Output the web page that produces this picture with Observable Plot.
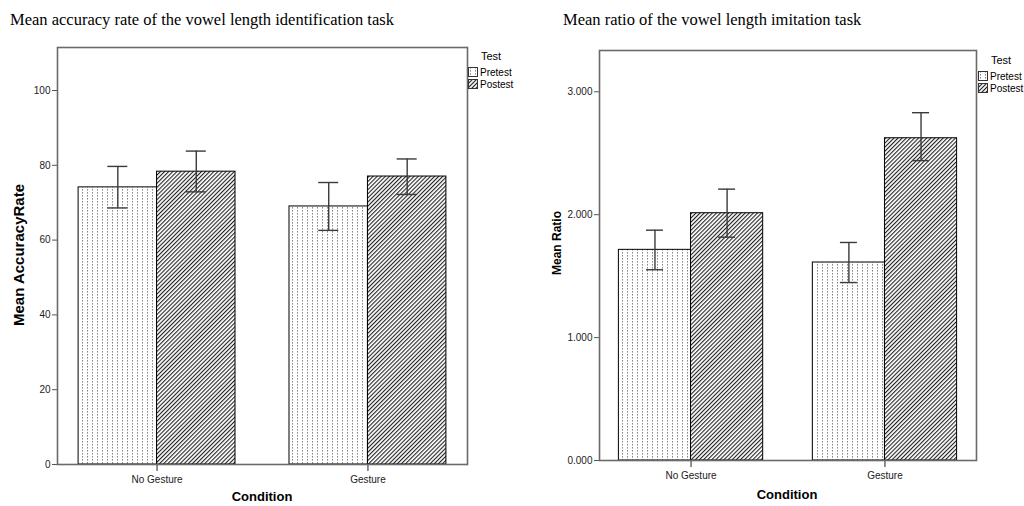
<!DOCTYPE html>
<html>
<head>
<meta charset="utf-8">
<script src="https://cdn.jsdelivr.net/npm/d3@7"></script>
<script src="https://cdn.jsdelivr.net/npm/@observablehq/plot@0.6"></script>
<style>
  body { margin: 0; background: #fff; }
  #root { position: relative; width: 1024px; height: 506px; overflow: hidden; background: #fff; }
  .title { position: absolute; font-family: "Liberation Serif", "Times New Roman", serif; font-size: 16.5px; line-height: 20px; color: #000; white-space: nowrap; }
  .ylab { position: absolute; font-family: "Liberation Sans", Arial, sans-serif; font-weight: bold; font-size: 13px; color: #000; white-space: nowrap; transform: translate(-50%, -50%) rotate(-90deg); }
  .xlab { position: absolute; font-family: "Liberation Sans", Arial, sans-serif; font-weight: bold; font-size: 13px; color: #000; white-space: nowrap; transform: translate(-50%, -50%); }
  .chart { position: absolute; }
  .legend { position: absolute; font-family: "Liberation Sans", Arial, sans-serif; font-size: 10px; color: #000; }
  .legend .lt { font-size: 11px; margin-left: 13px; margin-bottom: 4px; }
  .legend .row { display: flex; align-items: center; height: 12px; }
  .legend svg { margin-right: 2px; }
</style>
</head>
<body>
<div id="root"></div>
<script>
// ---------- data ----------
const conditions = ["No Gesture", "Gesture"];
const tests = ["Pretest", "Postest"];

const accPretest = [74.1, 69.0];
const accPostest = [78.3, 77.0];
const accPretestLo = [68.6, 62.6];
const accPretestHi = [79.7, 75.4];
const accPostestLo = [72.9, 72.2];
const accPostestHi = [83.8, 81.7];
const accTicks = [0, 20, 40, 60, 80, 100];

const ratioPretest = [1.714, 1.611];
const ratioPostest = [2.012, 2.622];
const ratioPretestLo = [1.552, 1.448];
const ratioPretestHi = [1.874, 1.774];
const ratioPostestLo = [1.817, 2.44];
const ratioPostestHi = [2.208, 2.83];
const ratioTicks = [0, 1, 2, 3];

const root = document.getElementById("root");

function addDefs(svg, p) {
  const defs = d3.select(svg).insert("defs", ":first-child");
  const dots = defs.append("pattern").attr("id", p + "dots").attr("patternUnits", "userSpaceOnUse")
    .attr("width", 5).attr("height", 3);
  dots.append("rect").attr("width", 5).attr("height", 3).attr("fill", "#fff");
  dots.append("rect").attr("x", 2).attr("y", 0).attr("width", 1).attr("height", 1.6).attr("fill", "#8a8a8a");
  const hatch = defs.append("pattern").attr("id", p + "hatch").attr("patternUnits", "userSpaceOnUse")
    .attr("width", 2.9).attr("height", 10).attr("patternTransform", "rotate(45)");
  hatch.append("rect").attr("width", 2.9).attr("height", 10).attr("fill", "#fff");
  hatch.append("rect").attr("x", 0).attr("width", 1.1).attr("height", 10).attr("fill", "#222");
}

function chart(opts) {
  const {id, pre, post, preLo, preHi, postLo, postHi, ticks, fmt, yMax, width, height,
         ml, mr, mt, mb, capW} = opts;
  const rows = (vals, lo, hi, test) => conditions.map((c, i) => ({condition: c, test, mean: vals[i], lo: lo[i], hi: hi[i]}));
  const preRows = rows(pre, preLo, preHi, "Pretest");
  const postRows = rows(post, postLo, postHi, "Postest");
  const pi = 0.256, po = 0.1;
  const R = width - ml - mr;
  const step = R / (conditions.length - pi + 2 * po);
  const B = step * (1 - pi);
  const capInset = (B / 2 - capW) / 2;
  const errStyle = {stroke: "#3a3a3a", strokeWidth: 1.4};
  const plot = Plot.plot({
    width, height,
    marginLeft: ml, marginRight: mr, marginTop: mt, marginBottom: mb,
    style: {fontFamily: "Liberation Sans, Arial, sans-serif", fontSize: "10px", color: "#222", background: "#fff"},
    x: {type: "band", domain: conditions, paddingInner: pi, paddingOuter: po, round: false, label: null},
    y: {domain: [0, yMax], label: null},
    marks: [
      Plot.barY(preRows, {x: "condition", y: "mean", fill: `url(#${id}dots)`, stroke: "#000", strokeWidth: 1, insetRight: B / 2}),
      Plot.barY(postRows, {x: "condition", y: "mean", fill: `url(#${id}hatch)`, stroke: "#000", strokeWidth: 1, insetLeft: B / 2}),
      Plot.ruleX(preRows, {x: "condition", y1: "lo", y2: "hi", dx: -B / 4, ...errStyle}),
      Plot.ruleX(postRows, {x: "condition", y1: "lo", y2: "hi", dx: B / 4, ...errStyle}),
      Plot.tickY(preRows, {x: "condition", y: "lo", insetLeft: capInset, insetRight: B / 2 + capInset, ...errStyle}),
      Plot.tickY(preRows, {x: "condition", y: "hi", insetLeft: capInset, insetRight: B / 2 + capInset, ...errStyle}),
      Plot.tickY(postRows, {x: "condition", y: "lo", insetLeft: B / 2 + capInset, insetRight: capInset, ...errStyle}),
      Plot.tickY(postRows, {x: "condition", y: "hi", insetLeft: B / 2 + capInset, insetRight: capInset, ...errStyle}),
      Plot.axisY({ticks, tickFormat: fmt, tickSize: 5, tickPadding: 2, stroke: "#555", label: null}),
      Plot.axisX({tickSize: 7, tickPadding: 4, stroke: "#222", label: null}),
      Plot.frame({stroke: "#6a6a6a", strokeWidth: 1.6})
    ]
  });
  addDefs(plot, id);
  return plot;
}

function place(el, left, top) {
  el.classList.add("chart");
  el.style.left = left + "px";
  el.style.top = top + "px";
  root.appendChild(el);
}

function html(cls, text, style) {
  const d = document.createElement("div");
  d.className = cls;
  d.textContent = text;
  Object.assign(d.style, style);
  root.appendChild(d);
  return d;
}

function legend(left, top, p) {
  const lg = document.createElement("div");
  lg.className = "legend";
  lg.style.left = left + "px";
  lg.style.top = top + "px";
  const t = document.createElement("div");
  t.className = "lt";
  t.textContent = "Test";
  lg.appendChild(t);
  tests.forEach((name, i) => {
    const row = document.createElement("div");
    row.className = "row";
    const s = d3.create("svg").attr("width", 10).attr("height", 10);
    s.append("rect").attr("x", 0.5).attr("y", 0.5).attr("width", 9).attr("height", 9)
      .attr("fill", i === 0 ? `url(#${p}dots)` : `url(#${p}hatch)`).attr("stroke", "#333");
    row.appendChild(s.node());
    const sp = document.createElement("span");
    sp.textContent = name;
    row.appendChild(sp);
    lg.appendChild(row);
  });
  root.appendChild(lg);
}

// Left chart
const left = chart({id: "a", pre: accPretest, post: accPostest, preLo: accPretestLo, preHi: accPretestHi,
  postLo: accPostestLo, postHi: accPostestHi, ticks: accTicks, fmt: d3.format("d"), yMax: 111.5,
  width: 470, height: 470, ml: 57, mr: 3, mt: 11, mb: 42, capW: 20});
place(left, 0, 36);

// Right chart
const right = chart({id: "b", pre: ratioPretest, post: ratioPostest, preLo: ratioPretestLo, preHi: ratioPretestHi,
  postLo: ratioPostestLo, postHi: ratioPostestHi, ticks: ratioTicks, fmt: d3.format(".3f"), yMax: 3.336,
  width: 440, height: 470, ml: 59, mr: 4, mt: 14, mb: 46, capW: 17});
place(right, 540, 36);

html("title", "Mean accuracy rate of the vowel length identification task", {left: "10px", top: "10px"});
html("title", "Mean ratio of the vowel length imitation task", {left: "563px", top: "10px"});
html("ylab", "Mean AccuracyRate", {left: "18px", top: "255px", fontSize: "15px"});
html("ylab", "Mean Ratio", {left: "557px", top: "243px", fontSize: "12px"});
html("xlab", "Condition", {left: "262px", top: "496px"});
html("xlab", "Condition", {left: "787px", top: "494px"});

legend(468, 50, "a");
legend(978, 54, "b");
</script>
</body>
</html>
